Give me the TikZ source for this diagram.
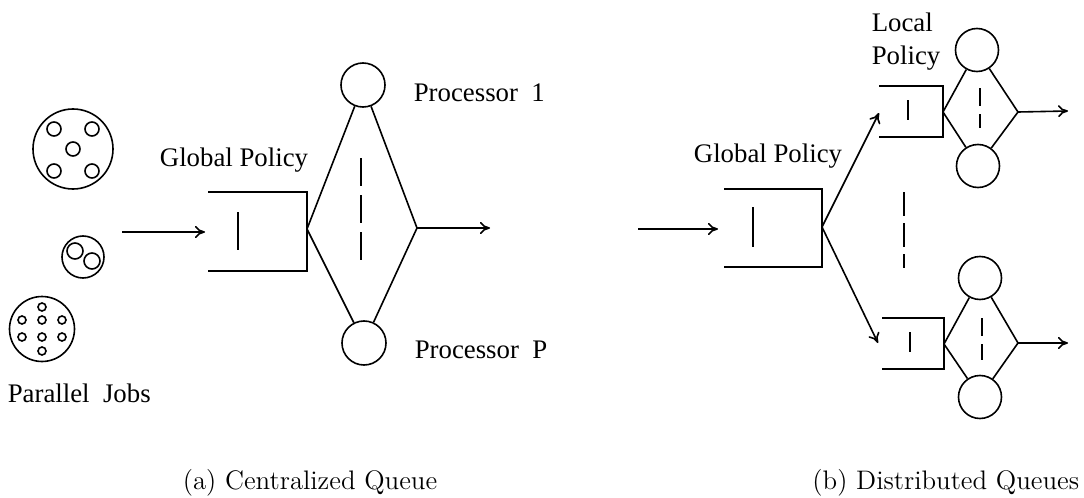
\documentclass[tikz,border=0pt]{standalone}
\usepackage{fontspec}
\newfontfamily\lblfont{Liberation Serif}
\usetikzlibrary{arrows.meta}

\begin{document}
\begin{tikzpicture}[x=0.5pt,y=-0.5pt,line width=0.8pt,>={To[length=5pt,width=6pt]},
    proc/.style={draw,circle,minimum size=22pt,inner sep=0pt},
    job/.style={draw,circle,inner sep=0pt},
    lab/.style={font=\lblfont\fontsize{13.4}{16.5}\selectfont,inner sep=0pt},
    capt/.style={font=\fontsize{13.4}{16}\selectfont,inner sep=0pt}]
    \useasboundingbox (0,0) rectangle (1084,498);

    % (a) parallel jobs
    \node[job,minimum size=40pt] (j1) at (73,149) {};
    \foreach \dx/\dy in {-19/-20,19/-20,0/0,-19/22,19/22}
        \draw ([shift={(\dx,\dy)}]j1) circle (7);
    \node[job,minimum size=21pt] (j2) at (83,257) {};
    \draw (75,251) circle (8);
    \draw (92,261) circle (8);
    \node[job,minimum size=32.5pt] (j3) at (42,329) {};
    \foreach \dx/\dy in {0/-22,-20/-9,0/-9,20/-9,-20/8,0/8,20/8,0/22}
        \draw ([shift={(\dx,\dy)}]j3) circle (4);
    \node[lab,anchor=west] (pj) at (7,393) {Parallel\ \ Jobs};

    % (a) centralized queue
    \coordinate (ina) at (122,232);
    \coordinate (qain) at (205,232);
    \draw[->] (ina) -- (qain);
    \draw (208,192) -- (307,192) -- (307,271) -- (208,271);
    \draw (238,212) -- (238,250);
    \coordinate (qa) at (307,229);
    \node[lab] (gpa) at (234,160) {Global Policy};
    \node[proc] (p1) at (363,85) {};
    \node[proc] (pP) at (364,343) {};
    \coordinate (oa) at (417,228);
    \coordinate (outa) at (490,228);
    \draw (qa) -- (p1) -- (oa) -- (pP) -- (qa);
    \draw[dash pattern=on 14pt off 4.5pt] (361,158) -- (361,263);
    \draw[->] (oa) -- (outa);
    \node[lab,anchor=west] (l1) at (413,93) {Processor\ \ 1};
    \node[lab,anchor=west] (lP) at (414,350) {Processor\ \ P};
    \node[capt,anchor=west] (capa) at (182,483) {(a) Centralized Queue};

    % (b) distributed queues
    \coordinate (inb) at (638,229);
    \coordinate (qbin) at (718,229);
    \draw[->] (inb) -- (qbin);
    \draw (724,189) -- (822,189) -- (822,267) -- (724,267);
    \draw (753,207) -- (753,247);
    \coordinate (qb) at (822,227);
    \node[lab] (gpb) at (768,156) {Global Policy};
    \coordinate (q1in) at (879,113);
    \coordinate (q2in) at (878,343);
    \draw[->] (qb) -- (q1in);
    \draw[->] (qb) -- (q2in);
    \draw[dash pattern=on 12pt off 3.5pt] (904,192) -- (904,268);

    % local queue 1
    \draw (879,86) -- (943,86) -- (943,137) -- (879,137);
    \draw (908,100) -- (908,120);
    \coordinate (q1) at (943,112);
    \node[proc,minimum size=21.5pt] (p11) at (977,50) {};
    \node[proc,minimum size=21.5pt] (p12) at (978,166) {};
    \coordinate (o1) at (1018,112);
    \coordinate (out1) at (1068,111);
    \draw (q1) -- (p11) -- (o1) -- (p12) -- (q1);
    \draw[dash pattern=on 9pt off 4pt] (980,88) -- (980,128);
    \draw[->] (o1) -- (out1);
    \node[lab,anchor=west,align=left] (lp) at (871,42) {Local\\Policy};

    % local queue 2
    \draw (882,318) -- (944,318) -- (944,369) -- (882,369);
    \draw (910,332) -- (910,352);
    \coordinate (q2) at (944,344);
    \node[proc,minimum size=21.5pt] (p21) at (980,278) {};
    \node[proc,minimum size=21.5pt] (p22) at (980,397) {};
    \coordinate (o2) at (1018,343);
    \coordinate (out2) at (1068,343);
    \draw (q2) -- (p21) -- (o2) -- (p22) -- (q2);
    \draw[dash pattern=on 9pt off 4pt] (982,318) -- (982,360);
    \draw[->] (o2) -- (out2);
    \node[capt,anchor=east] (capb) at (1080,483) {(b) Distributed Queues};
\end{tikzpicture}
\end{document}
